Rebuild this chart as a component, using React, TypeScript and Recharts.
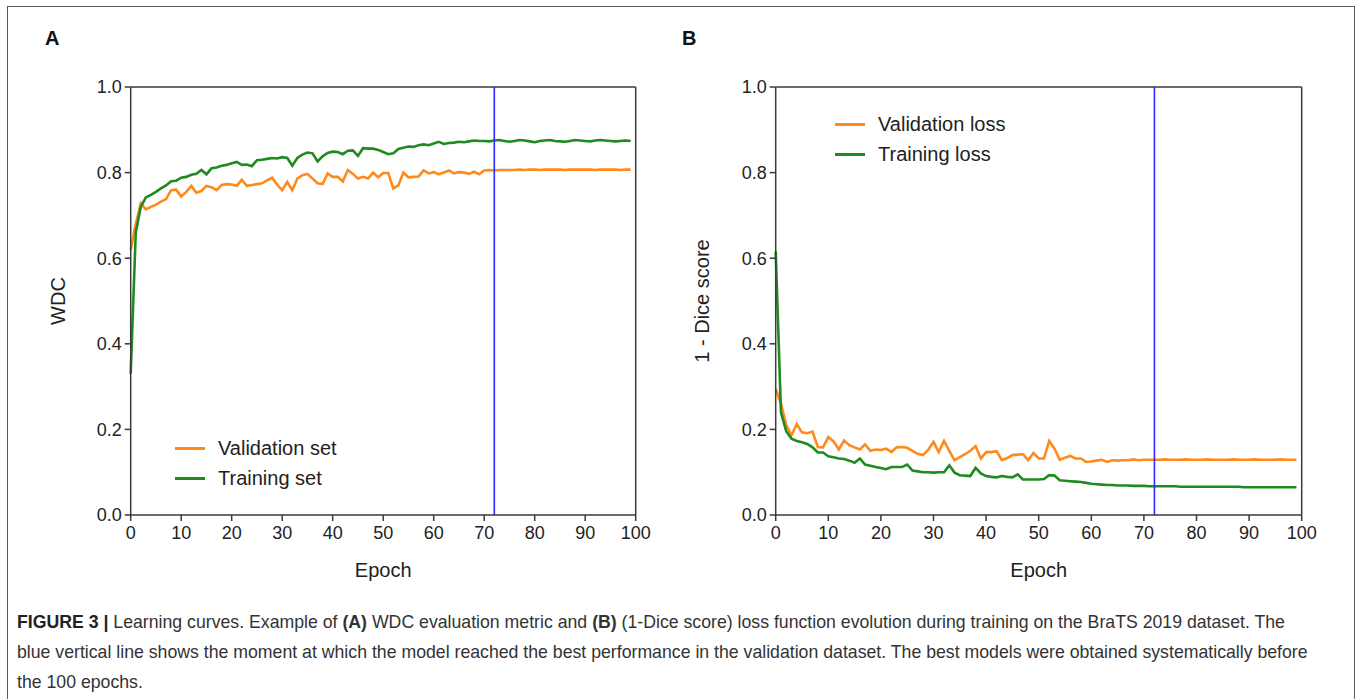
import React from 'react';
import { LineChart, Line, XAxis, YAxis, ReferenceLine, Legend } from 'recharts';

// Panel A: WDC per epoch (epochs 0..99)
const wdcValidation = [
  0.62, 0.68, 0.728, 0.714, 0.72, 0.725, 0.732, 0.738, 0.759, 0.76,
  0.744, 0.755, 0.769, 0.753, 0.757, 0.769, 0.766, 0.759, 0.771, 0.773,
  0.772, 0.769, 0.783, 0.769, 0.771, 0.773, 0.775, 0.782, 0.788, 0.772,
  0.759, 0.778, 0.759, 0.786, 0.794, 0.797, 0.786, 0.775, 0.773, 0.798,
  0.79, 0.79, 0.779, 0.806, 0.797, 0.786, 0.79, 0.786, 0.8, 0.789,
  0.799, 0.799, 0.763, 0.77, 0.8, 0.789, 0.79, 0.791, 0.805, 0.798,
  0.801, 0.796, 0.8, 0.805, 0.798, 0.801, 0.8, 0.797, 0.802, 0.796,
  0.805, 0.806, 0.805, 0.806, 0.806, 0.806, 0.806, 0.807, 0.806, 0.807,
  0.807, 0.806, 0.807, 0.807, 0.807, 0.807, 0.806, 0.807, 0.807, 0.807,
  0.807, 0.807, 0.806, 0.807, 0.807, 0.807, 0.807, 0.806, 0.807, 0.807,
];
const wdcTraining = [
  0.33, 0.66, 0.72, 0.742, 0.748, 0.755, 0.763, 0.77, 0.78, 0.781,
  0.788, 0.79, 0.795, 0.797, 0.806, 0.796, 0.81, 0.812, 0.816, 0.818,
  0.822, 0.825, 0.818, 0.819, 0.815, 0.829, 0.83, 0.832, 0.834, 0.833,
  0.836, 0.834, 0.816, 0.834, 0.842, 0.847, 0.845, 0.826, 0.838, 0.846,
  0.849, 0.848, 0.843, 0.851, 0.852, 0.839, 0.857, 0.856, 0.856, 0.853,
  0.848, 0.843, 0.845, 0.855, 0.858, 0.861, 0.86, 0.864, 0.866, 0.864,
  0.868, 0.872, 0.867, 0.869, 0.87, 0.872, 0.871, 0.873, 0.875, 0.874,
  0.874, 0.873, 0.875, 0.876, 0.874, 0.872, 0.874, 0.876, 0.875, 0.873,
  0.871, 0.874, 0.875, 0.876, 0.874, 0.873, 0.872, 0.874, 0.876, 0.875,
  0.874, 0.873, 0.875, 0.876, 0.875, 0.874, 0.873, 0.874, 0.875, 0.874,
];

// Panel B: 1 - Dice score per epoch (epochs 0..99)
const lossValidation = [
  0.295, 0.26, 0.21, 0.186, 0.212, 0.193, 0.191, 0.195, 0.159, 0.158,
  0.182, 0.172, 0.153, 0.174, 0.163, 0.158, 0.153, 0.165, 0.15, 0.153,
  0.152, 0.155, 0.147, 0.158, 0.159, 0.157, 0.15, 0.143, 0.14, 0.152,
  0.171, 0.147, 0.173, 0.15, 0.128, 0.135, 0.142, 0.15, 0.161, 0.132,
  0.147, 0.147, 0.149, 0.128, 0.133, 0.14, 0.141, 0.142, 0.128, 0.145,
  0.132, 0.132, 0.173, 0.155, 0.129, 0.134, 0.138, 0.132, 0.132, 0.124,
  0.125, 0.127, 0.129, 0.124, 0.128, 0.127, 0.128, 0.128, 0.13, 0.128,
  0.129, 0.129, 0.129, 0.129, 0.13, 0.129, 0.129, 0.129, 0.13, 0.129,
  0.129, 0.129, 0.13, 0.129, 0.129, 0.129, 0.129, 0.13, 0.129, 0.129,
  0.129, 0.13, 0.129, 0.129, 0.129, 0.129, 0.13, 0.129, 0.129, 0.129,
];
const lossTraining = [
  0.616, 0.24, 0.196, 0.178, 0.173, 0.17, 0.166, 0.158, 0.146, 0.146,
  0.137, 0.135, 0.132, 0.131, 0.127, 0.122, 0.132, 0.118, 0.115, 0.112,
  0.11, 0.107, 0.112, 0.112, 0.112, 0.118, 0.104, 0.102, 0.1, 0.1,
  0.099, 0.1, 0.1, 0.116, 0.099, 0.093, 0.092, 0.091, 0.11, 0.097,
  0.091, 0.089, 0.088, 0.091, 0.089, 0.088, 0.095, 0.083, 0.083, 0.083,
  0.083, 0.084, 0.093, 0.092, 0.081, 0.08, 0.079, 0.078, 0.077, 0.075,
  0.073, 0.072, 0.071, 0.07, 0.07, 0.069, 0.069, 0.069, 0.068, 0.068,
  0.068, 0.067, 0.067, 0.067, 0.067, 0.067, 0.067, 0.066, 0.066, 0.066,
  0.066, 0.066, 0.066, 0.066, 0.066, 0.066, 0.066, 0.066, 0.066, 0.065,
  0.065, 0.065, 0.065, 0.065, 0.065, 0.065, 0.065, 0.065, 0.065, 0.065,
];

const xTicks = [0, 10, 20, 30, 40, 50, 60, 70, 80, 90, 100];
const yTicks = [0, 0.2, 0.4, 0.6, 0.8, 1.0];
const bestEpoch = 72;

const ORANGE = '#ff8a1c';
const GREEN = '#1f8a1f';
const BLUE = '#2b2bff';
const AXIS = '#3a3a3a';
const FONT = '"Liberation Sans", Arial, Helvetica, sans-serif';

const dataA = wdcValidation.map((v, i) => ({ epoch: i, validation: v, training: wdcTraining[i] }));
const dataB = lossValidation.map((v, i) => ({ epoch: i, validation: v, training: lossTraining[i] }));

const tickStyle = { fontSize: 18, fill: '#222', fontFamily: FONT };

function LegendBox({ items }: { items: { label: string; color: string }[] }) {
  return (
    <div style={{ fontFamily: FONT, fontSize: 20, color: '#222' }}>
      {items.map((it) => (
        <div key={it.label} style={{ display: 'flex', alignItems: 'center', height: 30 }}>
          <div style={{ width: 30, height: 0, borderTop: `3px solid ${it.color}`, marginRight: 13 }} />
          <span>{it.label}</span>
        </div>
      ))}
    </div>
  );
}

function Panel({
  data, width, height, margin, yWidth, yLabel, legendItems, legendPos,
}: any) {
  return (
    <LineChart width={width} height={height} data={data} margin={margin}>
      <XAxis
        dataKey="epoch"
        type="number"
        domain={[0, 100]}
        ticks={xTicks}
        interval={0}
        height={30}
        tick={tickStyle}
        tickSize={6}
        tickMargin={5}
        stroke={AXIS}
        strokeWidth={1.5}
        label={{ value: 'Epoch', position: 'bottom', offset: 18, style: { fontSize: 20, fill: '#222', fontFamily: FONT } }}
      />
      <YAxis
        type="number"
        domain={[0, 1]}
        ticks={yTicks}
        interval={0}
        width={yWidth}
        tick={tickStyle}
        tickSize={6}
        tickMargin={3}
        tickFormatter={(v: number) => v.toFixed(1)}
        stroke={AXIS}
        strokeWidth={1.5}
        label={{ value: yLabel, angle: -90, position: 'insideLeft', offset: 0, style: { textAnchor: 'middle', fontSize: 20, fill: '#222', fontFamily: FONT } }}
      />
      <ReferenceLine y={1} stroke={AXIS} strokeWidth={1.5} ifOverflow="visible" />
      <ReferenceLine x={100} stroke={AXIS} strokeWidth={1.5} ifOverflow="visible" />
      <Line type="linear" dataKey="validation" stroke={ORANGE} strokeWidth={2.6} dot={false} isAnimationActive={false} />
      <Line type="linear" dataKey="training" stroke={GREEN} strokeWidth={2.6} dot={false} isAnimationActive={false} />
      <ReferenceLine x={bestEpoch} stroke={BLUE} strokeWidth={1.6} />
      <Legend
        verticalAlign="middle"
        align="center"
        layout="horizontal"
        content={() => <LegendBox items={legendItems} />}
        wrapperStyle={{ left: legendPos.left, top: legendPos.top, width: 'auto', height: 'auto' }}
      />
    </LineChart>
  );
}

export default function App() {
  return (
    <div style={{ position: 'absolute', left: 0, top: 0, width: 1360, height: 699, overflow: 'hidden', background: '#fff', fontFamily: FONT }}>
      <div style={{ position: 'absolute', left: 7, top: 6, width: 1346, height: 720, border: '1.5px solid #5a5a5a' }} />
      <div style={{ position: 'absolute', left: 45, top: 27, fontSize: 20, fontWeight: 'bold', color: '#111' }}>A</div>
      <div style={{ position: 'absolute', left: 682, top: 27, fontSize: 20, fontWeight: 'bold', color: '#111' }}>B</div>

      <div style={{ position: 'absolute', left: 0, top: 0 }}>
        <Panel
          data={dataA}
          width={700}
          height={620}
          margin={{ top: 87, left: 57.7, right: 64.3, bottom: 75 }}
          yWidth={73}
          yLabel="WDC"
          legendItems={[{ label: 'Validation set', color: ORANGE }, { label: 'Training set', color: GREEN }]}
          legendPos={{ left: 175, top: 433 }}
        />
      </div>

      <div style={{ position: 'absolute', left: 640, top: 0 }}>
        <Panel
          data={dataB}
          width={720}
          height={620}
          margin={{ top: 87, left: 62, right: 58.3, bottom: 75 }}
          yWidth={73.7}
          yLabel="1 - Dice score"
          legendItems={[{ label: 'Validation loss', color: ORANGE }, { label: 'Training loss', color: GREEN }]}
          legendPos={{ left: 195, top: 109 }}
        />
      </div>

      <div style={{ position: 'absolute', left: 17, top: 607, fontSize: 17.7, lineHeight: '30px', color: '#333', whiteSpace: 'nowrap' }}>
        <b style={{ color: '#222' }}>FIGURE 3 |</b> Learning curves. Example of <b>(A)</b> WDC evaluation metric and <b>(B)</b> (1-Dice score) loss function evolution during training on the BraTS 2019 dataset. The<br />
        blue vertical line shows the moment at which the model reached the best performance in the validation dataset. The best models were obtained systematically before<br />
        the 100 epochs.
      </div>
    </div>
  );
}
